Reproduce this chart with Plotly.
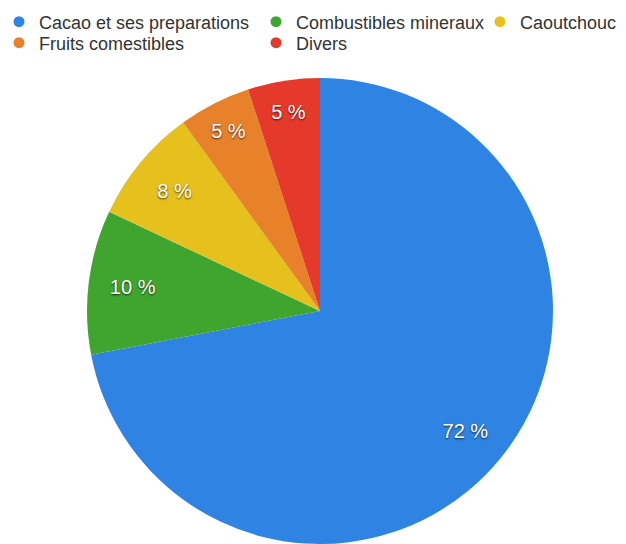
import plotly.graph_objects as go

categories = ["Cacao et ses preparations", "Combustibles mineraux", "Caoutchouc",
              "Fruits comestibles", "Divers"]
values = [72, 10, 8, 5, 5]
colors = ["#2f84e3", "#3fa52f", "#e6c11e", "#e8822a", "#e53a2b"]
labels_text = [f"{v} %" for v in values]

W, H = 626, 544
FONT = "Liberation Sans, Arial, Helvetica, sans-serif"
# page body adds an 8px offset; pie centre (312, 303) in figure pixels, radius 233
pie_domain = dict(x=[79 / W, 545 / W], y=[8 / H, 474 / H])

fig = go.Figure()
# coloured pie
fig.add_trace(go.Pie(
    labels=categories, values=values,
    textinfo="none",
    sort=False, direction="clockwise", rotation=0,
    marker=dict(colors=colors, line=dict(width=0)),
    showlegend=False, hoverinfo="label+percent",
    domain=pie_domain,
))
# transparent ring carrying the percentage labels near the rim
fig.add_trace(go.Pie(
    labels=categories, values=values, text=labels_text,
    texttemplate="%{text}", textposition="inside",
    insidetextorientation="horizontal",
    sort=False, direction="clockwise", rotation=0, hole=0.62,
    marker=dict(colors=["rgba(0,0,0,0)"] * len(values), line=dict(width=0)),
    textfont=dict(family=FONT, size=20, color="white",
                  shadow="0px 1px 2px rgba(0,0,0,0.75)"),
    showlegend=False, hoverinfo="skip",
    domain=pie_domain,
))

# legend entries: (x, anchor, y of row centre) in figure pixels
legend_pos = [(-9, "left", 14), (248, "left", 14), (472, "left", 14),
              (-9, "left", 35), (248, "left", 35)]
layout_legends = {}
for i, (name, col) in enumerate(zip(categories, colors)):
    key = "legend" if i == 0 else f"legend{i + 1}"
    fig.add_trace(go.Scatter(
        x=[None], y=[None], mode="markers", name=name,
        marker=dict(color=col, size=11, symbol="circle"),
        legend=key, showlegend=True,
    ))
    lx, anchor, ly = legend_pos[i]
    layout_legends[key] = dict(
        x=lx / W, y=1 - ly / H, xref="paper", yref="paper",
        xanchor=anchor, yanchor="middle",
        bgcolor="rgba(0,0,0,0)", borderwidth=0,
        font=dict(family=FONT, size=18, color="#333333"),
    )

fig.update_layout(
    width=W, height=H,
    margin=dict(l=0, r=0, t=0, b=0, autoexpand=False),
    paper_bgcolor="white", plot_bgcolor="white",
    xaxis=dict(visible=False), yaxis=dict(visible=False),
    **layout_legends,
)

fig.write_html("out.html")
